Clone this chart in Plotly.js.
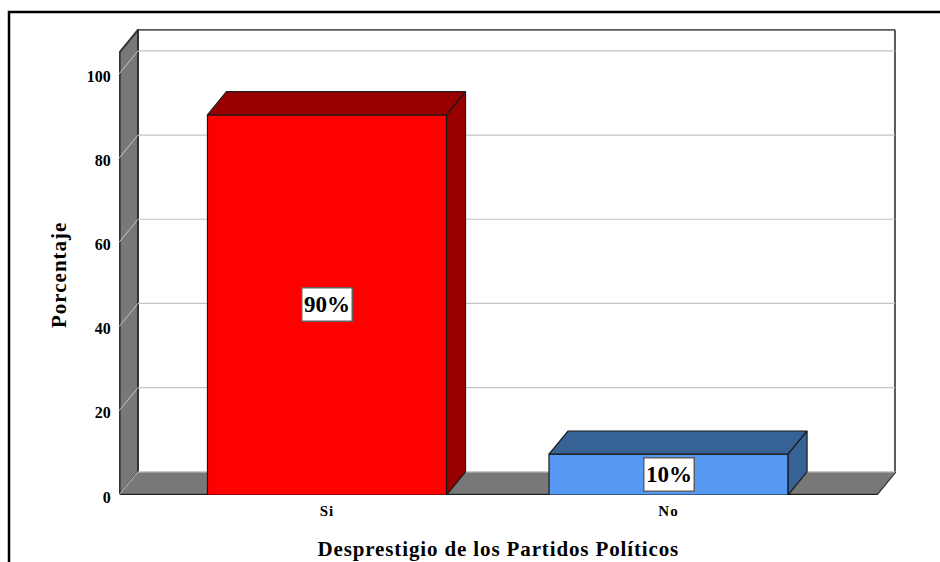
<!DOCTYPE html>
<html>
<head>
<meta charset="utf-8">
<script src="https://cdn.plot.ly/plotly-3.0.1.min.js"></script>
<style>
html,body{margin:0;padding:0;background:#fff;}
#chart{width:940px;height:562px;}
.annotation[data-index="2"] text{letter-spacing:0.87px;}
.annotation[data-index="3"] text{letter-spacing:1px;}
.xtick text{letter-spacing:1px;}
</style>
</head>
<body>
<div id="chart"></div>
<script>
const categories = ["Si", "No"];
const categoryPos = [0, 1];
const percentages = [90.3, 9.7];
const barLabels = ["90%", "10%"];
const labelLevels = [45.2, 4.9];
const yTicks = [0, 20, 40, 60, 80, 100];
const frontColors = ["#ff0000", "#5599f2"];
const sideColors = ["#990000", "#366296"];
const xAxisTitle = "Desprestigio de los Partidos Políticos";
const yAxisTitle = "Porcentaje";

const SERIF = "'Liberation Serif', 'Times New Roman', serif";
const xMin = -0.609, xMax = 1.666, yMax = 110.7;
const depthX = 0.0556, depthY = 5.5, barWidth = 0.7;
const frontTop = yMax - depthY;
const frontRight = xMax - depthX;
const wallX = xMin + depthX;

const shapes = [];
function poly(pts, fill, lineColor, w) {
  const path = pts.map((p, i) => (i ? "L" : "M") + p[0] + "," + p[1]).join(" ") + " Z";
  shapes.push({type: "path", xref: "x", yref: "y", path, fillcolor: fill,
    line: {color: lineColor, width: w}, layer: "below"});
}
function seg(x0, y0, x1, y1, color, w) {
  shapes.push({type: "line", xref: "x", yref: "y", x0, y0, x1, y1,
    line: {color, width: w}, layer: "below"});
}
const edgeX = xMax - 0.003, edgeY = yMax - 0.2;
// back wall outline: top and right edges only
seg(wallX, edgeY, edgeX, edgeY, "#5a5a5a", 2);
seg(edgeX, edgeY, edgeX, depthY, "#5a5a5a", 2);
// left wall
poly([[xMin + 0.002, 0], [wallX, depthY], [wallX, edgeY], [xMin + 0.002, frontTop]], "#787878", "#333333", 2);
// floor: fill, then only its front and right edges
poly([[xMin, 0], [frontRight, 0], [xMax, depthY], [wallX, depthY]], "#787878", "rgba(0,0,0,0)", 0);
seg(xMin, 0.1, frontRight, 0.1, "#222222", 1.5);
seg(frontRight, 0, xMax, depthY, "#333333", 1.2);
yTicks.forEach(v => {
  if (v > 0) seg(wallX, v + depthY, edgeX, v + depthY, "#c4c4c4", 1.2);
  seg(xMin, v, wallX, v + depthY, "#c4c4c4", 1);
});
seg(wallX, depthY, edgeX, depthY, "#c4c4c4", 1.2);
shapes.push({type: "path", xref: "paper", yref: "paper",
  path: "M" + ((9 - 119) / 777) + "," + ((495 - 562) / 466) +
        " L" + ((9 - 119) / 777) + "," + ((495 - 12) / 466) +
        " L" + ((940 - 119) / 777) + "," + ((495 - 12) / 466),
  line: {color: "#000000", width: 2.5}, layer: "below"});

const traces = [];
categoryPos.forEach((c, i) => {
  const l = c - barWidth / 2, r = c + barWidth / 2, v = percentages[i];
  traces.push({type: "scatter", mode: "lines", x: [l, r, r + depthX, l + depthX, l],
    y: [v, v, v + depthY, v + depthY, v], fill: "toself", fillcolor: sideColors[i],
    line: {color: "#1a1a1a", width: 1.2}, hoverinfo: "skip", showlegend: false});
  traces.push({type: "scatter", mode: "lines", x: [r, r + depthX, r + depthX, r, r],
    y: [0, depthY, v + depthY, v, 0], fill: "toself", fillcolor: sideColors[i],
    line: {color: "#1a1a1a", width: 1.2}, hoverinfo: "skip", showlegend: false});
});
traces.push({type: "bar", x: categoryPos, y: percentages, width: barWidth,
  marker: {color: frontColors, line: {color: "#1a1a1a", width: 1.2}},
  hoverinfo: "skip", showlegend: false});

const annotations = categoryPos.map((c, i) => ({
  x: c, y: labelLevels[i], xref: "x", yref: "y", text: "<b>" + barLabels[i] + "</b>",
  showarrow: false, bgcolor: "#ffffff", bordercolor: "#606060", borderwidth: 1.5,
  width: 47, height: 30, align: "center", valign: "middle",
  font: {family: SERIF, size: 23, color: "#000000"}
}));
annotations.push({xref: "paper", yref: "paper", x: (498 - 119) / 777, y: (495 - 549) / 466,
  text: "<b>" + xAxisTitle + "</b>", showarrow: false, xanchor: "center", yanchor: "middle",
  font: {family: SERIF, size: 21, color: "#000000"}});
annotations.push({xref: "paper", yref: "paper", x: (59 - 119) / 777, y: (495 - 275) / 466,
  text: "<b>" + yAxisTitle + "</b>", showarrow: false, textangle: -90, xanchor: "center", yanchor: "middle",
  font: {family: SERIF, size: 21, color: "#000000"}});

Plotly.newPlot("chart", traces, {
  width: 940, height: 562,
  margin: {l: 119, r: 44, t: 29, b: 67, pad: 0},
  paper_bgcolor: "#ffffff", plot_bgcolor: "rgba(0,0,0,0)",
  showlegend: false, shapes, annotations,
  xaxis: {type: "linear", range: [xMin, xMax], tickmode: "array", tickvals: categoryPos,
    ticktext: categories.map(s => "<b>" + s + "</b>"), showgrid: false, zeroline: false,
    showline: false, ticks: "outside", ticklen: 2, tickcolor: "rgba(0,0,0,0)",
    tickfont: {family: SERIF, size: 15, color: "#000000"}, automargin: false},
  yaxis: {range: [0, yMax], tickmode: "array", tickvals: yTicks, showgrid: false,
    zeroline: false, showline: false, ticks: "outside", ticklen: 4, tickcolor: "rgba(0,0,0,0)",
    ticklabelshift: 2,
    tickfont: {family: SERIF, size: 16, color: "#000000", weight: "bold"}, automargin: false}
}, {displayModeBar: false, staticPlot: true});
</script>
</body>
</html>
